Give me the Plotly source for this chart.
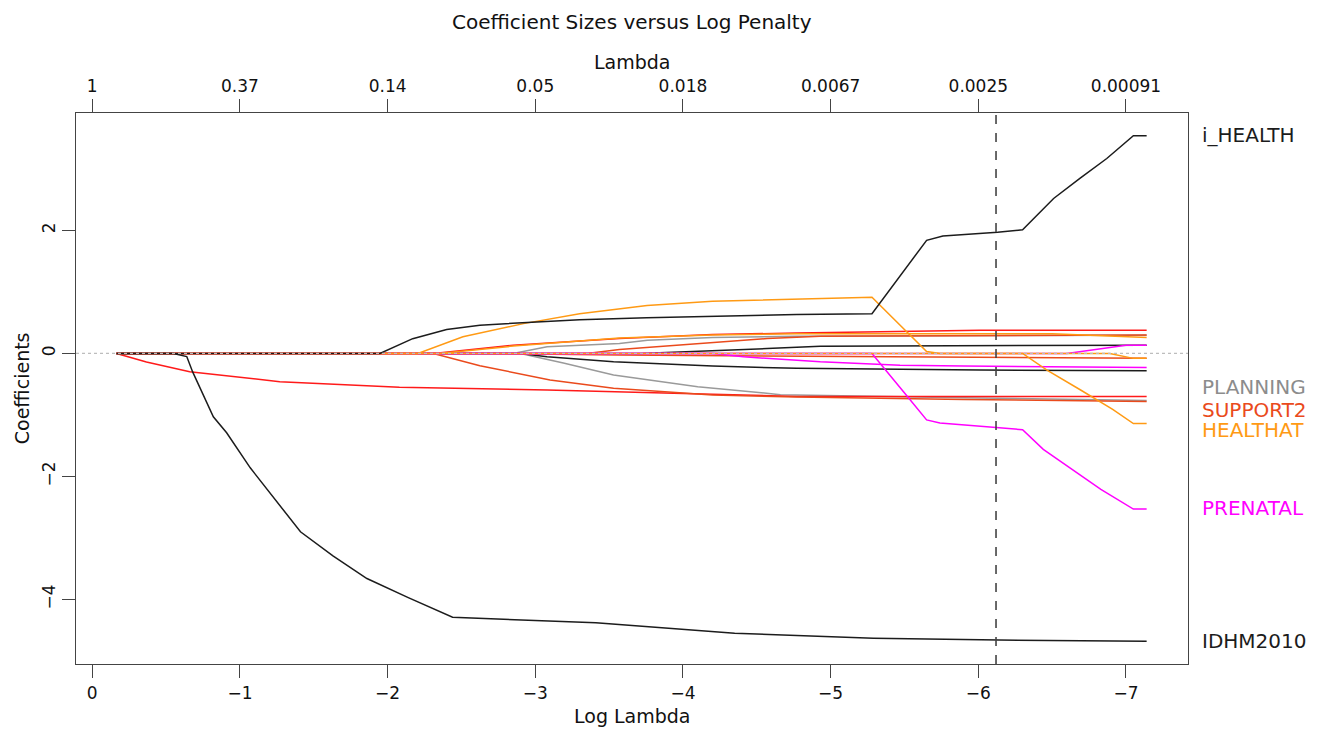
import plotly.graph_objects as go

# ---------------- data ----------------
LOG_LAMBDA_TICKS = [0, -1, -2, -3, -4, -5, -6, -7]
LAMBDA_LABELS = ["1", "0.37", "0.14", "0.05", "0.018", "0.0067", "0.0025", "0.00091"]
Y_TICKS = [-4, -2, 0, 2]
CV_LOG_LAMBDA = -6.12

# each path: log-lambda knots and coefficient values
idhm_x = [-0.165, -0.55, -0.64, -0.68, -0.82, -0.91, -1.07, -1.18, -1.41, -1.63, -1.86, -2.14, -2.44, -3.41, -4.35, -5.29, -6.14, -7.14]
idhm_y = [0, 0, -0.05, -0.30, -1.03, -1.29, -1.86, -2.20, -2.90, -3.29, -3.66, -3.97, -4.29, -4.38, -4.55, -4.63, -4.66, -4.68]

ihealth_x = [-0.165, -1.948, -2.17, -2.40, -2.625, -2.90, -3.30, -3.755, -4.20, -4.77, -5.28, -5.65, -5.76, -6.13, -6.30, -6.40, -6.51, -6.69, -6.87, -7.05, -7.14]
ihealth_y = [0, 0, 0.24, 0.39, 0.46, 0.50, 0.55, 0.58, 0.605, 0.635, 0.646, 1.84, 1.91, 1.97, 2.01, 2.26, 2.52, 2.85, 3.17, 3.54, 3.54]

healthat_x = [-0.165, -2.205, -2.51, -2.92, -3.30, -3.757, -4.20, -4.77, -5.28, -5.65, -5.74, -6.30, -6.465, -6.69, -6.91, -7.05, -7.14]
healthat_y = [0, 0, 0.27, 0.485, 0.647, 0.78, 0.85, 0.889, 0.915, 0.03, 0, 0, -0.27, -0.59, -0.91, -1.14, -1.14]

prenatal_x = [-0.165, -5.28, -5.52, -5.65, -5.74, -6.10, -6.30, -6.44, -6.60, -6.83, -7.05, -7.14]
prenatal_y = [0, 0, -0.70, -1.08, -1.13, -1.20, -1.24, -1.56, -1.83, -2.21, -2.53, -2.53]

magenta_a_x = [-0.165, -4.20, -4.41, -4.93, -5.47, -5.90, -7.14]
magenta_a_y = [0, 0, -0.055, -0.136, -0.19, -0.205, -0.23]

magenta_c_x = [-0.165, -6.60, -7.00, -7.14]
magenta_c_y = [0, 0, 0.134, 0.134]

black_pos_x = [-0.165, -3.71, -4.57, -4.93, -7.14]
black_pos_y = [0, 0, 0.08, 0.118, 0.134]

black_neg_x = [-0.165, -2.90, -3.08, -3.19, -3.53, -4.20, -4.77, -6.01, -7.14]
black_neg_y = [0, 0, -0.055, -0.076, -0.136, -0.205, -0.242, -0.27, -0.28]

planning_x = [-0.165, -2.90, -3.19, -3.53, -4.10, -4.66, -5.90, -7.14]
planning_y = [0, 0, -0.157, -0.35, -0.54, -0.67, -0.72, -0.765]

gray_pos_x = [-0.165, -2.85, -3.08, -3.57, -3.76, -4.20, -4.77, -7.14]
gray_pos_y = [0, 0, 0.107, 0.16, 0.215, 0.258, 0.28, 0.296]

red_long_x = [-0.165, -0.367, -0.66, -1.27, -2.08, -3.08, -4.20, -4.77, -7.14]
red_long_y = [0, -0.14, -0.297, -0.459, -0.549, -0.593, -0.662, -0.70, -0.70]

red_top_x = [-0.165, -2.31, -2.85, -3.57, -4.20, -4.77, -6.01, -7.14]
red_top_y = [0, 0, 0.134, 0.242, 0.307, 0.333, 0.376, 0.376]

support2_x = [-0.165, -2.31, -2.625, -2.96, -3.10, -3.53, -4.20, -4.77, -5.90, -7.14]
support2_y = [0, 0, -0.20, -0.37, -0.43, -0.565, -0.674, -0.71, -0.75, -0.78]

ored_zero_x = [-0.165, -2.625, -3.57, -6.00, -7.14]
ored_zero_y = [0, 0, -0.027, -0.055, -0.08]

ored_pos_x = [-0.165, -3.35, -3.57, -4.57, -4.93, -7.14]
ored_pos_y = [0, 0, 0.065, 0.242, 0.28, 0.30]

orange_b_x = [-0.165, -2.35, -2.85, -3.57, -4.20, -4.77, -6.50, -7.05, -7.14]
orange_b_y = [0, 0, 0.12, 0.25, 0.30, 0.32, 0.32, 0.26, 0.26]

orange_c_x = [-0.165, -6.89, -7.05, -7.14]
orange_c_y = [0, 0, -0.08, -0.08]

LABELS = ["i_HEALTH", "PLANNING", "SUPPORT2", "HEALTHAT", "PRENATAL", "IDHM2010"]
LABEL_Y = [3.56, -0.545, -0.917, -1.24, -2.52, -4.68]

# ---------------- styling ----------------
BLACK = "#1c1c1c"
RED = "#ff1a1a"
ORED = "#ea4a1c"
ORANGE = "#ff9a14"
GRAY = "#9a9a9a"
MAGENTA = "#ff00ff"
LABEL_COLORS = [BLACK, "#8c8c8c", ORED, ORANGE, MAGENTA, BLACK]

paths = [
    (gray_pos_x, gray_pos_y, GRAY),
    (planning_x, planning_y, GRAY),
    (black_neg_x, black_neg_y, BLACK),
    (black_pos_x, black_pos_y, BLACK),
    (red_long_x, red_long_y, RED),
    (red_top_x, red_top_y, RED),
    (ored_pos_x, ored_pos_y, ORED),
    (ored_zero_x, ored_zero_y, ORED),
    (support2_x, support2_y, ORED),
    (magenta_a_x, magenta_a_y, MAGENTA),
    (magenta_c_x, magenta_c_y, MAGENTA),
    (prenatal_x, prenatal_y, MAGENTA),
    (orange_b_x, orange_b_y, ORANGE),
    (orange_c_x, orange_c_y, ORANGE),
    (healthat_x, healthat_y, ORANGE),
    (idhm_x, idhm_y, BLACK),
    (ihealth_x, ihealth_y, BLACK),
]

FONT = "DejaVu Sans"
XR = [0.11, -7.42]
YR = [-5.05, 3.91]

fig = go.Figure()
for xs, ys, col in paths:
    fig.add_trace(go.Scatter(x=xs, y=ys, mode="lines",
                             line=dict(color=col, width=1.5),
                             showlegend=False, hoverinfo="skip"))

# invisible trace to activate the top axis
fig.add_trace(go.Scatter(x=[LOG_LAMBDA_TICKS[0]], y=[0], xaxis="x2", mode="markers",
                         marker=dict(opacity=0), showlegend=False, hoverinfo="skip"))

axis_common = dict(showgrid=False, zeroline=False, showline=True, linecolor="#444444",
                   linewidth=1.3, ticks="outside", ticklen=13, tickwidth=1.3,
                   tickcolor="#444444", tickfont=dict(family=FONT, size=17, color="#111111"))

# the page body adds an 8px margin, so the figure is offset to compensate
fig.update_layout(
    width=1328, height=721,
    paper_bgcolor="white", plot_bgcolor="white",
    margin=dict(l=68, r=148, t=105, b=65),
    xaxis=dict(range=XR, tickvals=LOG_LAMBDA_TICKS, ticktext=[f"{v:d}".replace("-", "\u2212") for v in LOG_LAMBDA_TICKS],
               **axis_common),
    xaxis2=dict(range=XR, overlaying="x", side="top", anchor="y",
                tickvals=LOG_LAMBDA_TICKS, ticktext=LAMBDA_LABELS, **axis_common),
    yaxis=dict(range=YR, tickvals=Y_TICKS, ticktext=[str(v).replace("-", "\u2212") for v in Y_TICKS],
               tickangle=-90, mirror=True, **axis_common),
    shapes=[
        dict(type="line", xref="paper", yref="y", x0=0, x1=1, y0=0, y1=0,
             line=dict(color="#bdbdbd", width=1.3, dash="dot"), layer="above"),
        dict(type="line", xref="x", yref="paper", x0=CV_LOG_LAMBDA, x1=CV_LOG_LAMBDA, y0=0, y1=1,
             line=dict(color="#444444", width=1.6, dash="dash"), layer="above"),
    ],
)

annotations = [
    dict(text="Coefficient Sizes versus Log Penalty", xref="paper", yref="paper", x=0.5, y=1.165,
         showarrow=False, font=dict(family=FONT, size=20, color="#111111"), xanchor="center", yanchor="middle"),
    dict(text="Lambda", xref="paper", yref="paper", x=0.5, y=1.0926,
         showarrow=False, font=dict(family=FONT, size=19, color="#111111"), xanchor="center", yanchor="middle"),
    dict(text="Log Lambda", xref="paper", yref="paper", x=0.5, y=-0.094,
         showarrow=False, font=dict(family=FONT, size=19, color="#111111"), xanchor="center", yanchor="middle"),
    dict(text="Coefficients", xref="paper", yref="paper", x=-0.0488, y=0.5, textangle=-90,
         showarrow=False, font=dict(family=FONT, size=19, color="#111111"), xanchor="center", yanchor="middle"),
]
for lab, ly, lc in zip(LABELS, LABEL_Y, LABEL_COLORS):
    annotations.append(dict(text=lab, xref="paper", yref="y", x=1.0108, y=ly, showarrow=False,
                            xanchor="left", yanchor="middle",
                            font=dict(family=FONT, size=20, color=lc)))
fig.update_layout(annotations=annotations)

fig.write_html("out.html")
